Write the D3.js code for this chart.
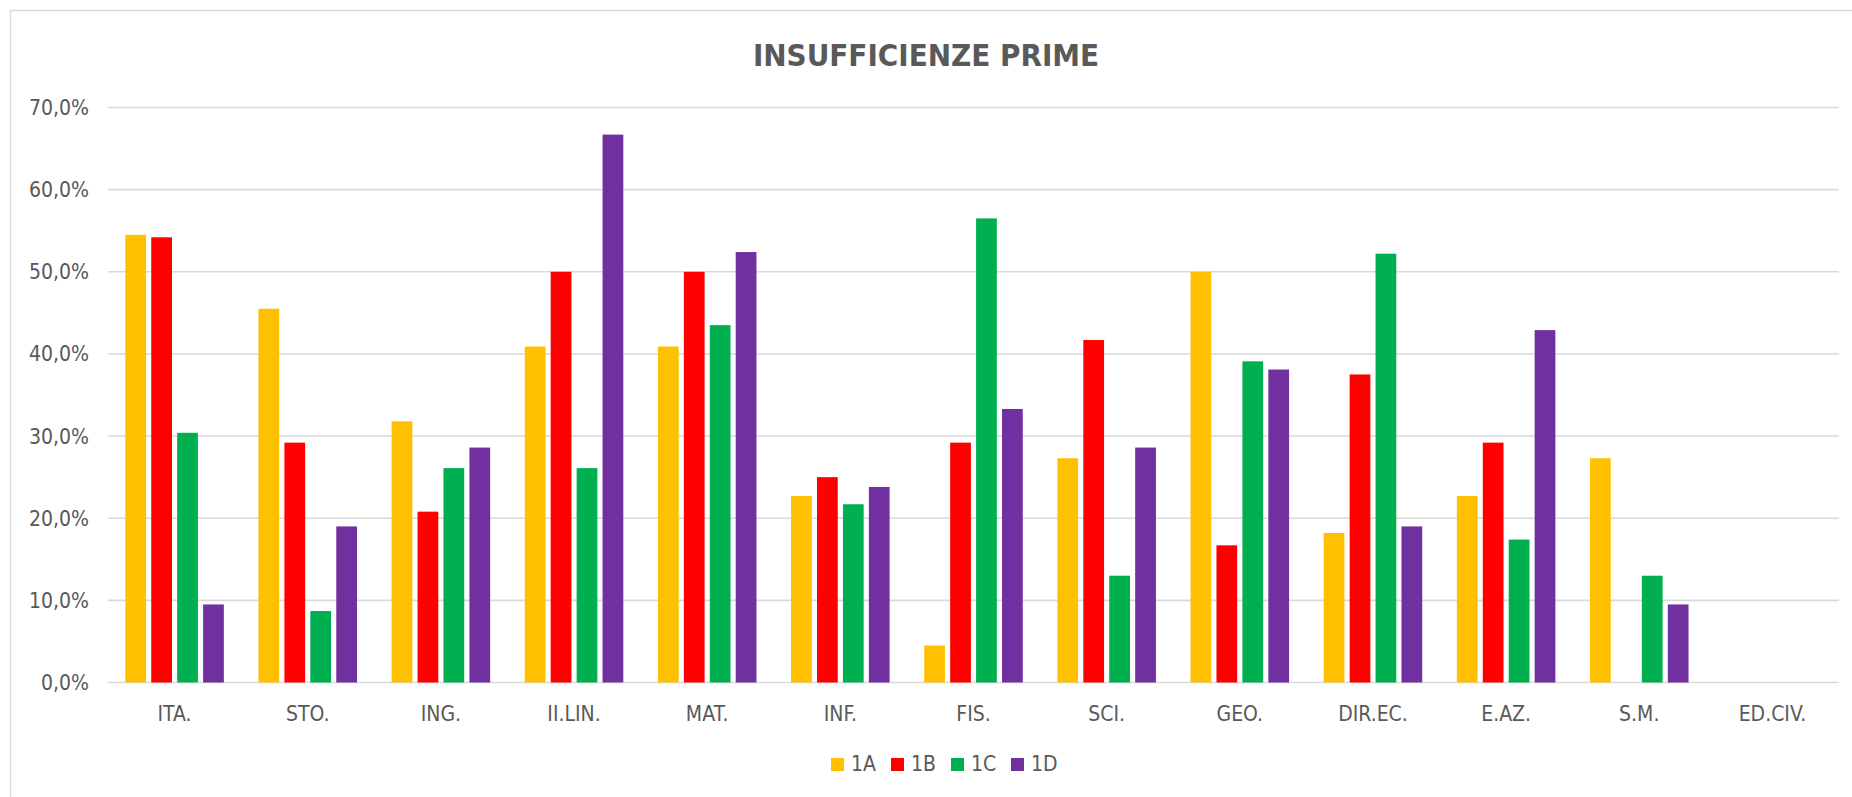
<!DOCTYPE html>
<html>
<head>
<meta charset="utf-8">
<script src="https://cdn.jsdelivr.net/npm/d3@7"></script>
<style>
  body { margin: 0; background: #fff; }
  text { font-family: "DejaVu Sans Condensed", "DejaVu Sans", sans-serif; fill: #595959; }
</style>
</head>
<body>
<div id="chart"></div>
<script>
// subjects on the x axis
var categories = ["ITA.", "STO.", "ING.", "II.LIN.", "MAT.", "INF.", "FIS.", "SCI.", "GEO.", "DIR.EC.", "E.AZ.", "S.M.", "ED.CIV."];
var classes = ["1A", "1B", "1C", "1D"];
var colors = ["#FFC000", "#FF0000", "#00B050", "#7030A0"];

// percentages per class
var values1A = [54.5, 45.5, 31.8, 40.9, 40.9, 22.7, 4.5, 27.3, 50.0, 18.2, 22.7, 27.3, 0];
var values1B = [54.2, 29.2, 20.8, 50.0, 50.0, 25.0, 29.2, 41.7, 16.7, 37.5, 29.2, 0, 0];
var values1C = [30.4, 8.7, 26.1, 26.1, 43.5, 21.7, 56.5, 13.0, 39.1, 52.2, 17.4, 13.0, 0];
var values1D = [9.5, 19.0, 28.6, 66.7, 52.4, 23.8, 33.3, 28.6, 38.1, 19.0, 42.9, 9.5, 0];

var yTicks = [0, 10, 20, 30, 40, 50, 60, 70];

var series = [values1A, values1B, values1C, values1D];

var width = 1852, height = 797;
var plotLeft = 108, plotRight = 1839, plotTop = 107.5, plotBottom = 682.5;

var svg = d3.select("#chart").append("svg")
    .attr("width", width)
    .attr("height", height);

// chart frame
svg.append("rect")
    .attr("x", 10.5).attr("y", 10.5)
    .attr("width", 1900).attr("height", 900)
    .attr("fill", "none")
    .attr("stroke", "#D9D9D9")
    .attr("stroke-width", 1.5);

var x0 = d3.scaleBand().domain(categories).range([plotLeft, plotRight]).paddingInner(0.26).paddingOuter(0.13);
var x1 = d3.scaleBand().domain(classes).range([0, x0.bandwidth()]).paddingInner(0.2);
var y = d3.scaleLinear().domain([0, 70]).range([plotBottom, plotTop]);

// gridlines
svg.append("g")
    .selectAll("line")
    .data(yTicks).enter()
    .append("line")
    .attr("x1", plotLeft).attr("x2", plotRight)
    .attr("y1", function(d) { return y(d); })
    .attr("y2", function(d) { return y(d); })
    .attr("stroke", "#D9D9D9")
    .attr("stroke-width", 1.6);

// y labels
svg.append("g")
    .selectAll("text")
    .data(yTicks).enter()
    .append("text")
    .attr("x", 89)
    .attr("y", function(d) { return y(d); })
    .attr("dy", "0.36em")
    .attr("text-anchor", "end")
    .style("font-size", "21px")
    .text(function(d) { return d.toFixed(1).replace(".", ",") + "%"; });

// bars
var groups = svg.append("g")
    .selectAll("g")
    .data(categories).enter()
    .append("g")
    .attr("transform", function(d) { return "translate(" + x0(d) + ",0)"; });

groups.selectAll("rect")
    .data(function(d, i) { return series.map(function(s, k) { return {cls: classes[k], v: s[i], k: k}; }); })
    .enter().append("rect")
    .attr("x", function(d) { return x1(d.cls); })
    .attr("width", x1.bandwidth())
    .attr("y", function(d) { return y(d.v); })
    .attr("height", function(d) { return y(0) - y(d.v); })
    .attr("fill", function(d) { return colors[d.k]; })
    .style("display", function(d) { return d.v > 0 ? null : "none"; });

// x labels
svg.append("g")
    .selectAll("text")
    .data(categories).enter()
    .append("text")
    .attr("x", function(d) { return x0(d) + x0.bandwidth() / 2; })
    .attr("y", 721)
    .attr("text-anchor", "middle")
    .style("font-size", "21px")
    .text(function(d) { return d; });

// title
svg.append("text")
    .attr("x", 926)
    .attr("y", 66)
    .attr("text-anchor", "middle")
    .style("font-size", "31px")
    .style("font-weight", "bold")
    .text("INSUFFICIENZE PRIME");

// legend
var legend = svg.append("g")
    .selectAll("g")
    .data(classes).enter()
    .append("g")
    .attr("transform", function(d, i) { return "translate(" + (831 + i * 60) + ",758)"; });

legend.append("rect")
    .attr("width", 13).attr("height", 13)
    .attr("fill", function(d, i) { return colors[i]; });

legend.append("text")
    .attr("x", 20)
    .attr("y", 13)
    .style("font-size", "21px")
    .text(function(d) { return d; });
</script>
</body>
</html>
